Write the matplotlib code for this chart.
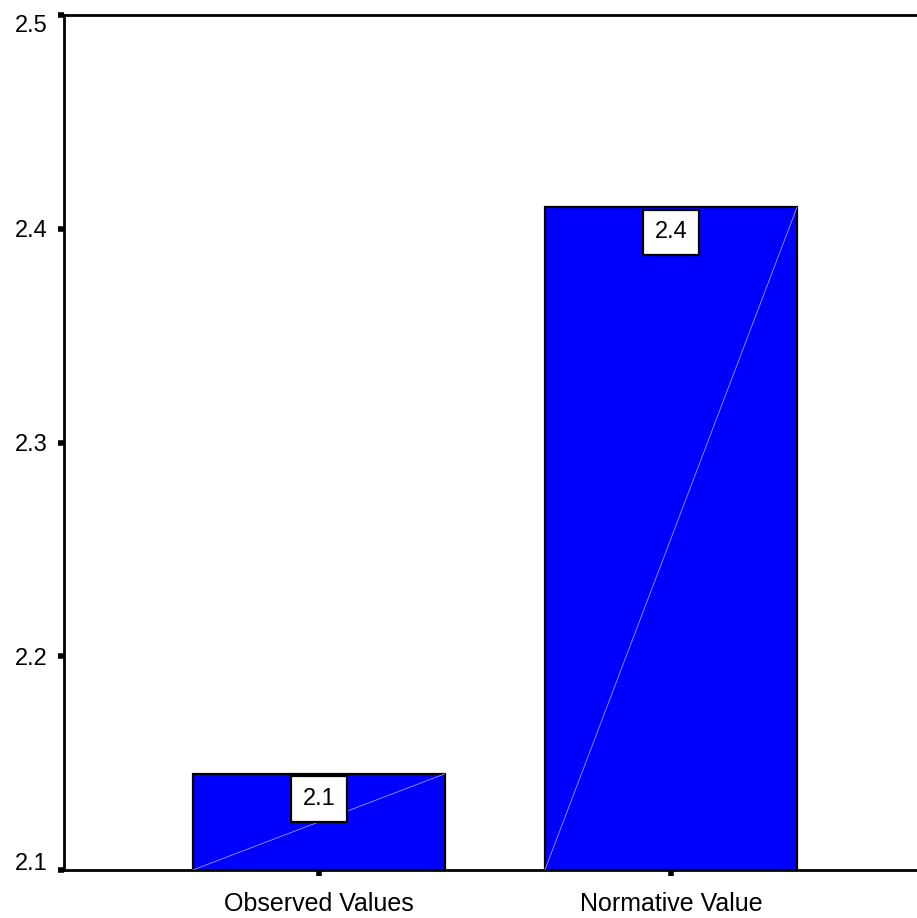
import matplotlib
matplotlib.use("Agg")
import matplotlib.pyplot as plt

categories = ["Observed Values", "Normative Value"]
values = [2.145, 2.41]
y_ticks = [2.1, 2.2, 2.3, 2.4, 2.5]
y_min, y_max = 2.1, 2.5

plt.rcParams['font.family'] = ['Liberation Sans', 'DejaVu Sans']

fig = plt.figure(figsize=(9.17, 9.18), dpi=100)
ax = fig.add_axes([64/917, 1-870/918, 1-64/917, (870-15)/918])

x = list(range(len(categories)))
width = 0.716
ax.bar(x, [v - y_min for v in values], bottom=y_min, width=width,
       color='#0000FF', edgecolor='black', linewidth=1.6, zorder=2)

for xi, v in zip(x, values):
    ax.plot([xi - width/2, xi + width/2], [y_min, v], color='#9999ff', lw=0.6, zorder=3)
    ax.annotate(f"{v:.1f}", xy=(xi, v), xytext=(0, -18), textcoords='offset points',
                ha='center', va='center', fontsize=17, zorder=4,
                bbox=dict(boxstyle='square,pad=0.5', facecolor='white', edgecolor='black', linewidth=1.6))

ax.set_xlim(-0.724, 1.699)
ax.set_ylim(y_min, y_max)
ax.set_yticks(y_ticks)
ax.set_yticklabels([f"{t:.1f}" for t in y_ticks], fontsize=17)
ax.set_xticks(x)
ax.set_xticklabels(categories, fontsize=18)

ylabels = ax.get_yticklabels()
ylabels[0].set_va('baseline')
ylabels[-1].set_va('top')

for s in ['left', 'bottom', 'top']:
    ax.spines[s].set_linewidth(2)
    ax.spines[s].set_color('black')
ax.spines['right'].set_visible(False)

ax.tick_params(axis='y', direction='out', length=4, width=4, pad=8)
ax.tick_params(axis='x', direction='out', length=4, width=4, pad=12)

fig.savefig("out.png", dpi=100)
